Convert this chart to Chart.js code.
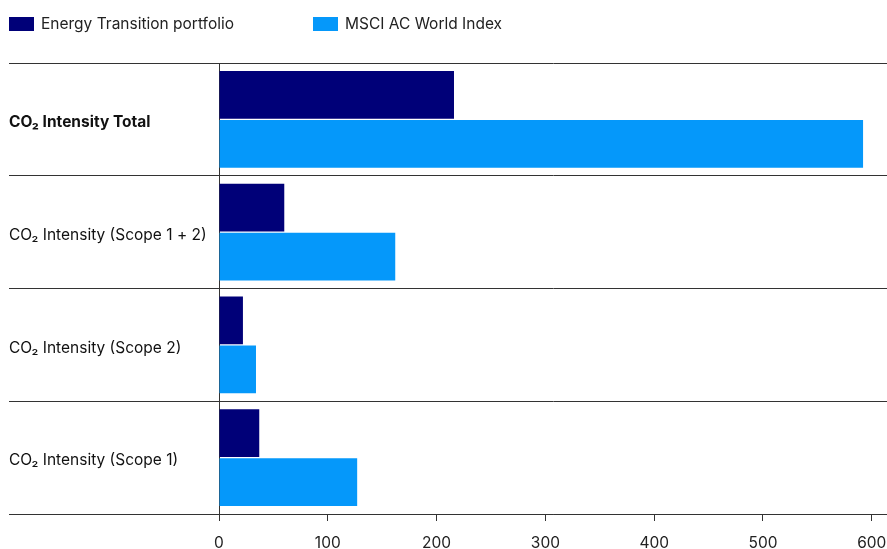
<!DOCTYPE html>
<html>
<head>
<meta charset="utf-8">
<script src="https://cdn.jsdelivr.net/npm/chart.js@4.4.1/dist/chart.umd.min.js"></script>
<style>
html,body{margin:0;padding:0;background:#fff;}
#wrap{width:887px;height:549px;}
</style>
</head>
<body>
<div id="wrap"><canvas id="c" width="887" height="549"></canvas></div>
<script>
const categories = [
  "CO\u2082 Intensity Total",
  "CO\u2082 Intensity (Scope 1 + 2)",
  "CO\u2082 Intensity (Scope 2)",
  "CO\u2082 Intensity (Scope 1)"
];
const seriesNames = ["Energy Transition portfolio", "MSCI AC World Index"];
const energyTransition = [216, 60, 22, 37];
const msciACWI = [592, 162, 34, 127];
const xTickValues = [0, 100, 200, 300, 400, 500, 600];

const colors = ["#000078", "#0598FA"];
const FONT = "Inter, 'Noto Sans', sans-serif";

const legendPlugin = {
  id: 'customLegend',
  afterDraw(chart) {
    const ctx = chart.ctx;
    const starts = [9, 313];
    ctx.save();
    ctx.font = "15.5px " + FONT;
    ctx.textBaseline = 'middle';
    ctx.textAlign = 'left';
    chart.data.datasets.forEach((ds, i) => {
      const x = starts[i];
      ctx.fillStyle = ds.backgroundColor;
      ctx.fillRect(x, 17, 25, 14);
      ctx.fillStyle = '#222';
      ctx.fillText(ds.label, x + 32, 24.5);
    });
    ctx.restore();
  }
};

new Chart(document.getElementById('c'), {
  type: 'bar',
  data: {
    labels: categories,
    datasets: [
      { label: seriesNames[0], data: energyTransition, backgroundColor: colors[0] },
      { label: seriesNames[1], data: msciACWI, backgroundColor: colors[1] }
    ]
  },
  options: {
    indexAxis: 'y',
    responsive: false,
    animation: false,
    events: [],
    layout: { padding: { top: 63, left: 9, right: 0, bottom: 0 } },
    datasets: { bar: { categoryPercentage: 0.87, barPercentage: 0.97 } },
    plugins: { legend: { display: false }, tooltip: { enabled: false } },
    scales: {
      x: {
        type: 'linear',
        min: 0,
        max: 614,
        afterBuildTicks: s => { s.ticks = xTickValues.map(v => ({ value: v })); },
        afterFit: s => { s.height = 35; s.paddingRight = 0; s.paddingLeft = 0; },
        grid: { drawOnChartArea: false, drawTicks: true, tickLength: 7, color: '#333', lineWidth: 1 },
        border: { display: true, color: '#333', width: 1 },
        ticks: { padding: 13, color: '#222', font: { family: FONT, size: 15.5 } }
      },
      y: {
        type: 'category',
        afterFit: s => { s.width = 210; },
        grid: { offset: true, drawOnChartArea: true, drawTicks: true, tickLength: 210, color: '#333', lineWidth: 1 },
        border: { display: true, color: '#333', width: 1 },
        ticks: {
          crossAlign: 'far',
          padding: 0,
          labelOffset: 3,
          color: '#111',
          font: ctx => ({ family: FONT, size: 15.5, weight: ctx.index === 0 ? 'bold' : 'normal' })
        }
      }
    }
  },
  plugins: [legendPlugin]
});
</script>
</body>
</html>
